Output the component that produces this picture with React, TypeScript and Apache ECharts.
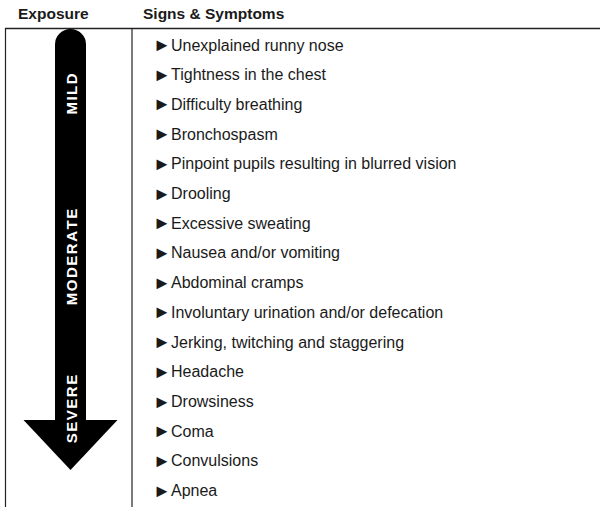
import React, { useEffect, useRef } from "react";
import * as echarts from "echarts";

const headers = ["Exposure", "Signs & Symptoms"];
const symptoms = [
  "Unexplained runny nose",
  "Tightness in the chest",
  "Difficulty breathing",
  "Bronchospasm",
  "Pinpoint pupils resulting in blurred vision",
  "Drooling",
  "Excessive sweating",
  "Nausea and/or vomiting",
  "Abdominal cramps",
  "Involuntary urination and/or defecation",
  "Jerking, twitching and staggering",
  "Headache",
  "Drowsiness",
  "Coma",
  "Convulsions",
  "Apnea",
];
const severityLabels = ["MILD", "MODERATE", "SEVERE"];

const W = 600;
const H = 507;
const FONT = '"Liberation Sans", Arial, Helvetica, sans-serif';
const severityCenters = [94, 257, 409];
const LINE = "#222";

function letterGraphics(): any[] {
  const canvas = document.createElement("canvas");
  const ctx = canvas.getContext("2d")!;
  const fs = 15;
  const spacing = 1.5;
  ctx.font = `bold ${fs}px ${FONT}`;
  const out: any[] = [];
  severityLabels.forEach((lab, li) => {
    const chars = lab.split("");
    const widths = chars.map((c) => ctx.measureText(c).width);
    const total = widths.reduce((a, b) => a + b, 0) + spacing * (chars.length - 1);
    const bottom = severityCenters[li] + total / 2;
    let cum = 0;
    chars.forEach((c, i) => {
      const cy = bottom - (cum + widths[i] / 2);
      cum += widths[i] + spacing;
      out.push({
        type: "text",
        x: 71,
        y: cy,
        rotation: Math.PI / 2,
        style: {
          text: c,
          fill: "#fff",
          font: `bold ${fs}px ${FONT}`,
          align: "center",
          verticalAlign: "middle",
        },
        z: 10,
      });
    });
  });
  return out;
}

export default function App() {
  const ref = useRef<HTMLDivElement>(null);
  useEffect(() => {
    document.body.style.margin = "0";
    const chart = echarts.init(ref.current!, undefined, { renderer: "svg" });
    const option: any = {
      animation: false,
      backgroundColor: "#fff",
      grid: { left: 132, right: 0, top: 30.15, bottom: 1.5 },
      xAxis: { type: "value", min: 0, max: 1, show: false },
      yAxis: {
        type: "category",
        inverse: true,
        data: symptoms,
        axisLine: { show: false },
        axisTick: { show: false },
        splitLine: { show: false },
        axisLabel: {
          inside: true,
          margin: 21,
          formatter: (v: string) => `{tri|►}{t|${v}}`,
          rich: {
            tri: { fontFamily: FONT, fontSize: 18, color: "#1a1a1a", width: 18 },
            t: { fontFamily: FONT, fontSize: 16, color: "#1a1a1a" },
          },
        },
      },
      series: [],
      graphic: [
        {
          type: "text",
          x: 18,
          y: 13,
          style: {
            text: headers[0],
            font: `bold 15.5px ${FONT}`,
            fill: "#1a1a1a",
            verticalAlign: "middle",
          },
        },
        {
          type: "text",
          x: 143,
          y: 13,
          style: {
            text: headers[1],
            font: `bold 15.5px ${FONT}`,
            fill: "#1a1a1a",
            verticalAlign: "middle",
          },
        },
        {
          type: "line",
          shape: { x1: 5, y1: 28.5, x2: W, y2: 28.5 },
          style: { stroke: LINE, lineWidth: 1.3 },
        },
        {
          type: "line",
          shape: { x1: 5.5, y1: 28, x2: 5.5, y2: H },
          style: { stroke: LINE, lineWidth: 1.2 },
        },
        {
          type: "line",
          shape: { x1: 132, y1: 28, x2: 132, y2: H },
          style: { stroke: LINE, lineWidth: 1.2 },
        },
        {
          type: "rect",
          shape: { x: 55, y: 29, width: 31, height: 392, r: [15.5, 15.5, 0, 0] },
          style: { fill: "#000" },
        },
        {
          type: "polygon",
          shape: { points: [[23.5, 420], [117.5, 420], [70.5, 470]] },
          style: { fill: "#000" },
        },
        ...letterGraphics(),
      ],
    };
    chart.setOption(option);
    return () => chart.dispose();
  }, []);
  return <div ref={ref} style={{ width: W, height: H }} />;
}
